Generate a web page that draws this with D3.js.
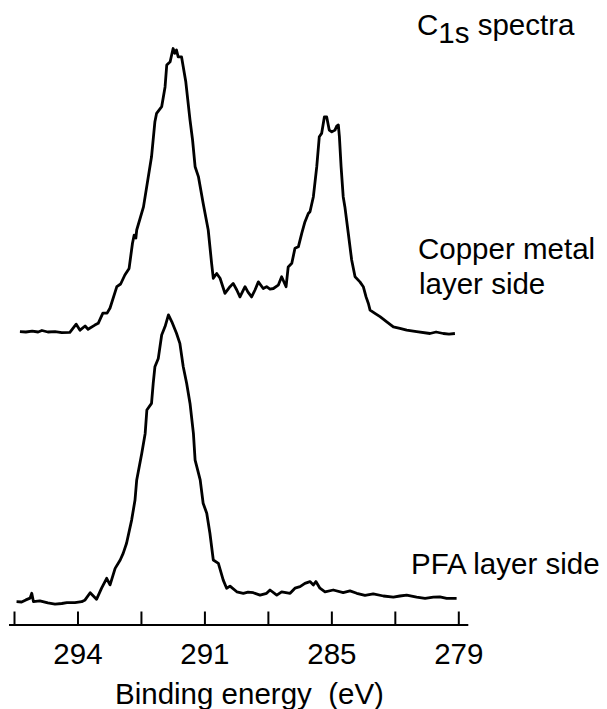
<!DOCTYPE html>
<html>
<head>
<meta charset="utf-8">
<script src="https://cdn.jsdelivr.net/npm/d3@7"></script>
<style>
  body { margin: 0; background: #fff; }
  svg text { font-family: "Liberation Sans", Arial, Helvetica, sans-serif; font-size: 29.5px; fill: #000; }
</style>
</head>
<body>
<svg id="chart" width="607" height="709"></svg>
<script>
// tick positions on the energy axis (eV) and the labels printed under them
var tickValues = [295.5, 294, 292.5, 291, 288, 285, 282, 279];
var tickLabels = ['', '294', '', '291', '', '285', '', '279'];

// Copper metal layer side (binding energy eV, intensity)
var copperEV = [295.36,295.22,295.07,294.93,294.84,294.70,294.53,294.37,294.18,294.03,293.94,293.82,293.75,293.59,293.51,293.40,293.30,293.23,293.07,292.98,292.88,292.78,292.70,292.66,292.62,292.60,292.44,292.25,292.17,292.13,292.01,291.93,291.89,291.81,291.74,291.70,291.66,291.62,291.54,291.44,291.34,291.28,291.22,291.14,291.03,290.82,290.66,290.58,290.42,290.26,290.03,289.79,289.64,289.47,289.32,289.08,288.94,288.77,288.61,288.45,288.22,288.06,287.90,287.74,287.51,287.35,287.14,287.04,286.87,286.72,286.56,286.40,286.25,286.09,286.01,285.85,285.69,285.57,285.46,285.33,285.22,285.10,284.98,284.83,284.75,284.67,284.62,284.54,284.44,284.36,284.20,284.04,283.88,283.65,283.49,283.36,283.25,283.17,282.94,282.70,282.38,282.07,281.76,281.44,280.97,280.34,280.05,279.71,279.44,279.16];
var copperI = [-0.2,-0.3,0,-0.3,0.2,-0.3,-0.2,-0.5,-0.4,2.3,0.3,1.7,0.6,2.0,2.6,6.0,6.0,7.7,14.8,15.7,18.7,20.9,29.3,32.0,31.0,33.7,41.4,58.1,69.8,72.6,74.8,81.4,88.7,89.8,94.2,92.6,93.7,91.4,91.4,83.1,70.3,63.7,54.8,51.4,42.6,33.7,22.6,17.6,19.2,17.6,12.6,14.8,15.9,13.7,11.4,14.8,13.0,11.4,13.7,16.4,14.2,14.8,14.0,14.2,15.3,18.1,14.8,21.4,22.6,27.6,28.1,32.6,36.4,39.2,39.8,44.8,54.8,64.8,65.9,71.4,71.4,67.0,66.4,67.0,68.3,68.7,64.8,54.8,44.8,41.4,32.6,23.7,18.1,16.4,14.8,11.4,9.2,7.0,5.9,4.8,3.1,1.4,0.9,0.3,-0.2,-0.8,-0.3,-0.8,-1.0,-0.8];

// PFA layer side
var pfaEV = [295.44,295.32,295.22,295.12,295.08,295.04,294.89,294.70,294.53,294.37,294.25,294.06,293.90,293.82,293.70,293.55,293.43,293.31,293.23,293.11,292.99,292.92,292.84,292.72,292.64,292.60,292.48,292.40,292.36,292.25,292.21,292.17,292.09,292.01,291.93,291.85,291.77,291.66,291.58,291.50,291.42,291.34,291.26,291.22,291.18,291.10,291.03,290.89,290.74,290.58,290.34,290.11,289.95,289.79,289.47,289.16,288.94,288.69,288.37,288.06,287.90,287.58,287.35,286.95,286.72,286.48,286.25,286.01,285.85,285.73,285.54,285.30,284.91,284.44,284.12,283.80,283.41,283.02,282.54,282.07,281.76,281.44,280.97,280.57,280.18,279.87,279.55,279.08];
var pfaI = [0.1,0,0.7,1.3,2.9,0.1,0.4,-0.3,-0.7,-0.5,-0.2,-0.2,0.1,0.7,3.1,0.9,4.6,7.9,5.7,11.2,14.0,16.2,19.6,27.3,34.0,40.7,49.6,56.2,64.0,66.2,72.9,78.4,81.2,89.0,91.8,95.7,93.4,89.6,86.2,78.4,72.9,66.2,56.2,47.3,45.1,40.7,32.9,29.6,22.9,14.0,12.9,7.3,4.6,5.3,3.4,2.9,3.3,3.1,2.3,2.9,4.0,2.3,3.4,2.9,4.6,5.1,6.2,6.8,5.7,6.8,4.6,3.4,4.0,3.1,3.7,2.9,2.2,2.7,2.0,1.6,2.0,2.3,1.6,1.2,1.6,1.7,1.2,1.2];

// stacked spectra: vertical offset of each trace in intensity units
var traceNames = ['Copper metal layer side', 'PFA layer side'];
var traceOffset = [90.3, 0];

var svg = d3.select('#chart');

// axis is evenly spaced between the printed ticks, so piecewise scale
var left = 14, right = 458.3;
var step = (right - left) / (tickValues.length - 1);
var x = d3.scaleLinear()
	.domain(tickValues)
	.range(tickValues.map(function(d, i){ return left + i * step; }));
var y = d3.scaleLinear().domain([0, 200]).range([602, 2]);

var axisY = 625;

var traces = [
	{ev: copperEV, val: copperI, off: traceOffset[0]},
	{ev: pfaEV, val: pfaI, off: traceOffset[1]}
];

var line = d3.line()
	.x(function(d){ return x(d[0]); })
	.y(function(d){ return y(d[1]); });

svg.selectAll('path.trace').data(traces).enter().append('path')
	.attr('class', 'trace')
	.attr('d', function(t){
		return line(t.ev.map(function(e, i){ return [e, t.val[i] + t.off]; }));
	})
	.attr('fill', 'none')
	.attr('stroke', '#000')
	.attr('stroke-width', 2.8)
	.attr('stroke-linejoin', 'round');

// x axis, ticks pointing up
var xAxis = d3.axisBottom(x)
	.tickValues(tickValues)
	.tickSizeInner(-13.5)
	.tickSizeOuter(0)
	.tickPadding(18)
	.tickFormat(function(d, i){ return tickLabels[i]; });

var g = svg.append('g').attr('transform', 'translate(0,' + axisY + ')').call(xAxis);
g.select('.domain').remove();
g.selectAll('.tick line').attr('stroke', '#000').attr('stroke-width', 2);
g.selectAll('.tick text')
	.attr('font-family', null).attr('font-size', null)
	.style('font-size', '29.5px');
g.append('line')
	.attr('x1', x.range()[0] - 5).attr('x2', x.range()[x.range().length - 1] + 10)
	.attr('stroke', '#000').attr('stroke-width', 2);

svg.append('text')
	.attr('x', 115).attr('y', 704)
	.style('white-space', 'pre')
	.text('Binding energy  (eV)');

// title
var title = svg.append('text').attr('x', 417).attr('y', 35);
title.append('tspan').text('C');
title.append('tspan').attr('dy', 8).text('1s');
title.append('tspan').attr('dy', -8).text(' spectra');

// trace labels
svg.append('text').attr('x', 418).attr('y', 259).text('Copper metal');
svg.append('text').attr('x', 419).attr('y', 294).text('layer side');
svg.append('text').attr('x', 411).attr('y', 573.5).text(traceNames[1]);
</script>
</body>
</html>
